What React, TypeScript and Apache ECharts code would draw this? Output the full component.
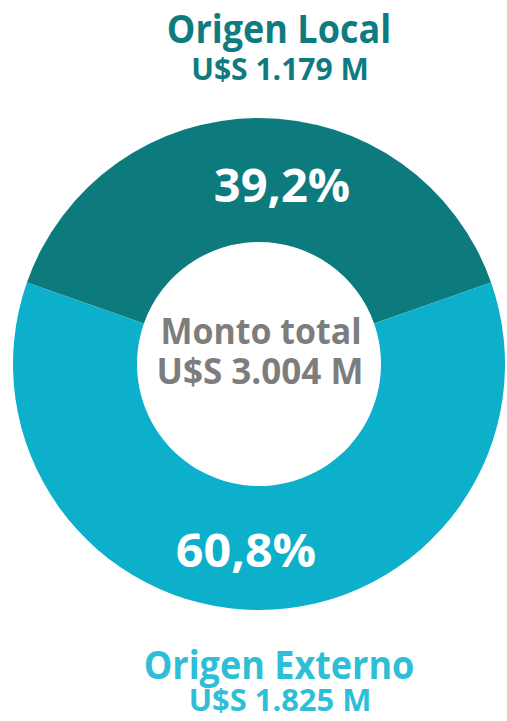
import React, { useEffect, useRef } from "react";
import * as echarts from "echarts";

const categories = ["Origen Local", "Origen Externo"];
const amounts = [1179, 1825];
const amountLabels = ["U$S 1.179 M", "U$S 1.825 M"];
const shareLabels = ["39,2%", "60,8%"];
const totalTitle = "Monto total";
const totalLabel = "U$S 3.004 M";
const colors = ["#0d7a7e", "#0cb0cb"];
const textColors = ["#0f7b80", "#2ebfd6"];

export default function App() {
  const ref = useRef<HTMLDivElement>(null);
  useEffect(() => {
    document.body.style.margin = "0";
    const chart = echarts.init(ref.current!, null, { renderer: "svg" });
    const total = amounts.reduce((a, b) => a + b, 0);
    const localSpan = (amounts[0] / total) * 360;
    const font = "'Open Sans', sans-serif";
    const txt = (text: string, x: number, y: number, size: number, fill: string, sx = 1) => ({
      type: "text",
      x,
      y,
      scaleX: sx,
      style: {
        text,
        fill,
        font: `700 ${size}px ${font}`,
        textAlign: "center",
        textVerticalAlign: "middle",
      },
      z: 10,
    });
    chart.setOption({
      animation: false,
      series: [
        {
          type: "pie",
          center: [259, 364],
          radius: [122, 246],
          startAngle: 90 + localSpan / 2,
          label: { show: false },
          labelLine: { show: false },
          silent: true,
          data: categories.map((c, i) => ({
            name: c,
            value: amounts[i],
            itemStyle: { color: colors[i] },
          })),
        },
      ],
      graphic: [
        txt(categories[0], 279, 27, 40, textColors[0], 0.9),
        txt(amountLabels[0], 280, 68, 31, textColors[0], 0.97),
        txt(shareLabels[0], 282, 184, 47, "#ffffff", 1.0),
        txt(totalTitle, 261, 330, 35, "#7d7d7d", 0.97),
        txt(totalLabel, 260, 370, 35, "#7d7d7d", 1.0),
        txt(shareLabels[1], 246, 549, 47, "#ffffff", 1.03),
        txt(categories[1], 279, 663, 40, textColors[1], 0.9),
        txt(amountLabels[1], 280, 699, 30, textColors[1], 1.03),
      ],
    });
    return () => chart.dispose();
  }, []);
  return <div ref={ref} style={{ width: 507, height: 721 }} />;
}
